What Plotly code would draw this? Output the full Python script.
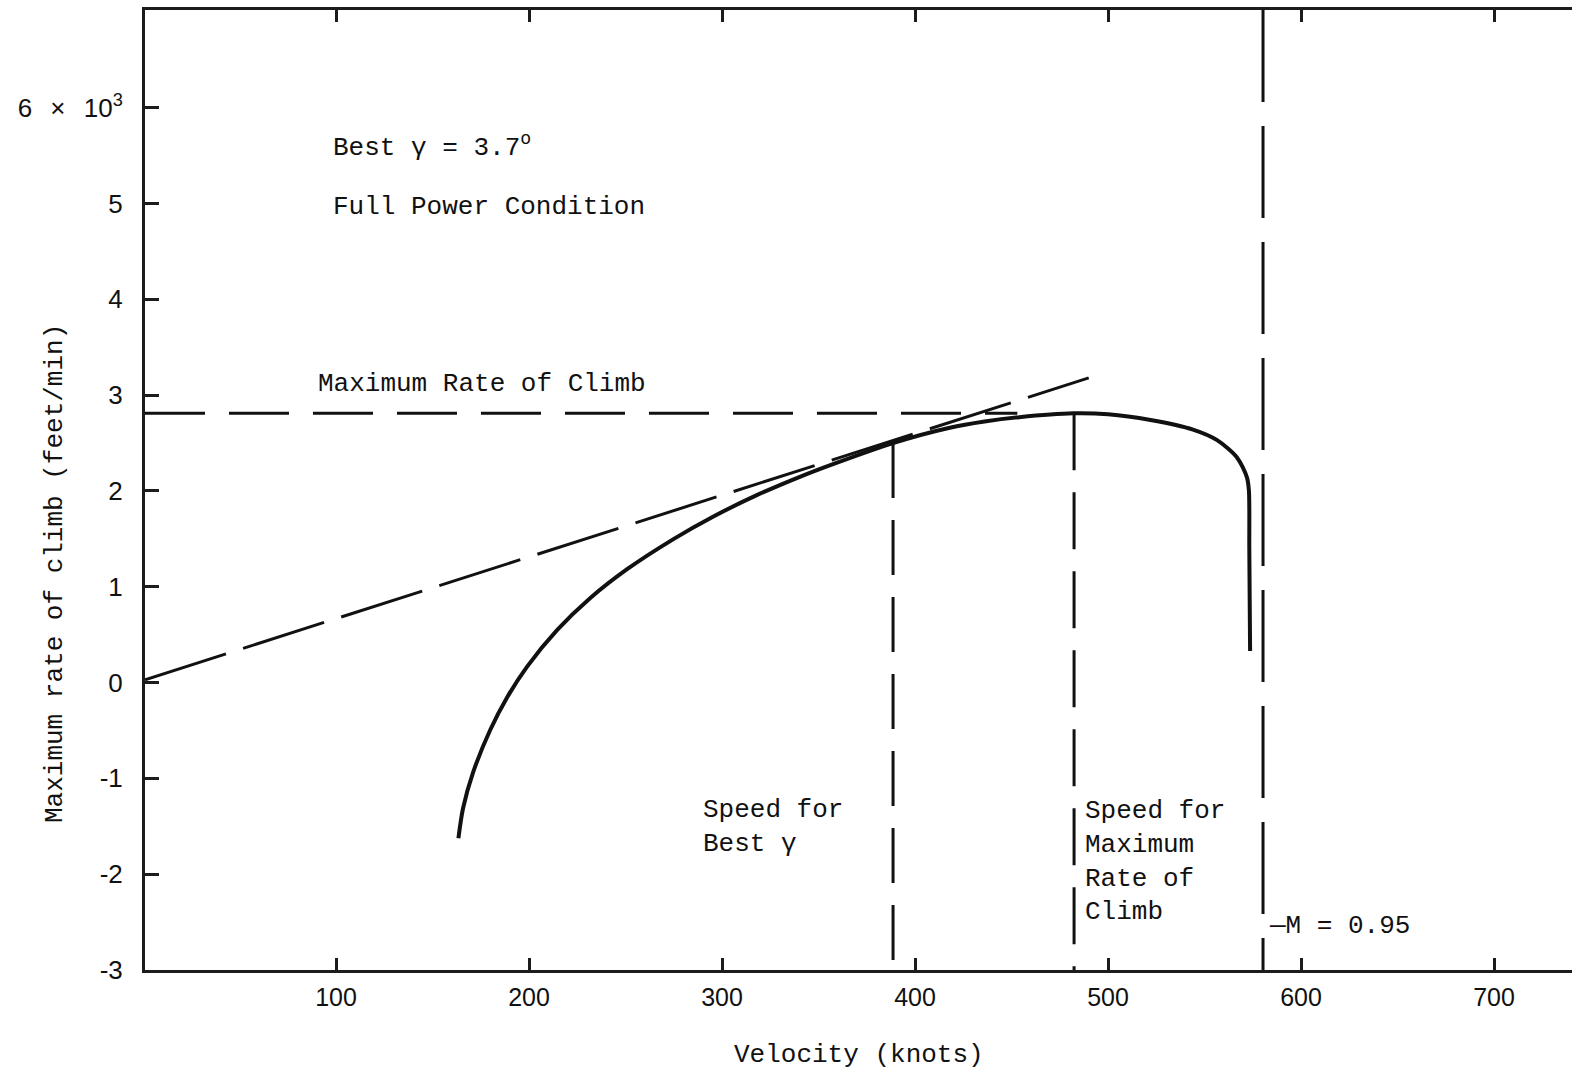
import plotly.graph_objects as go

# ---- data ----
velocity = [163.4, 165.8, 171.0, 179.8, 188.6, 199.0, 214.5, 231.6, 250.8, 274.6,
            295.3, 318.0, 340.0, 357.5, 388.6, 418.0, 436.0, 454.0, 482.0, 500.0,
            522.0, 544.0, 556.5, 566.8, 572.0, 573.0, 573.2, 573.4, 573.6]
max_roc = [-1.624, -1.312, -0.938, -0.498, -0.155, 0.167, 0.547, 0.880, 1.183, 1.495,
           1.731, 1.956, 2.145, 2.280, 2.500, 2.660, 2.725, 2.770, 2.810, 2.800,
           2.740, 2.640, 2.530, 2.350, 2.140, 2.000, 1.400, 0.850, 0.330]

tangent_v = [1, 490]
tangent_roc = [0.03, 3.18]

maxroc_line_v = [1, 453]
maxroc_line_roc = [2.81, 2.81]

vline_v = [388.6, 482.4, 580.3]
vline_top = [2.50, 2.81, 7.02]
vline_bottom = -3.0
vline_dash = ["55px,22px", "57px,22px", "92px,24px"]

x_tickvals = [100, 200, 300, 400, 500, 600, 700]
x_ticktext = ["100", "200", "300", "400", "500", "600", "700"]
y_tickvals = [-3, -2, -1, 0, 1, 2, 3, 4, 5, 6]
y_ticktext = ["-3", "-2", "-1", "0", "1", "2", "3", "4", "5",
              "6\u2002\u2009\u00d7\u2002\u200910<sup>3</sup>"]

x_range = [1.0, 740.4]
y_range = [-3.0, 7.02]

MONO = "Liberation Mono, Courier New, monospace"
SANS = "Liberation Sans, Arial, sans-serif"
INK = "#111111"
AXIS = "#1c1c1c"

fig = go.Figure()

# tangent line (best gamma)
fig.add_trace(go.Scatter(x=tangent_v, y=tangent_roc, mode="lines",
                         line=dict(color=INK, width=3, dash="85px,18px"),
                         hoverinfo="skip", showlegend=False))
# maximum rate of climb horizontal line
fig.add_trace(go.Scatter(x=maxroc_line_v, y=maxroc_line_roc, mode="lines",
                         line=dict(color=INK, width=3, dash="60px,24px"),
                         hoverinfo="skip", showlegend=False))
# vertical dashed lines
for xv, top, dsh in zip(vline_v, vline_top, vline_dash):
    fig.add_trace(go.Scatter(x=[xv, xv], y=[top, vline_bottom], mode="lines",
                             line=dict(color=INK, width=3, dash=dsh),
                             hoverinfo="skip", showlegend=False))
# main curve
fig.add_trace(go.Scatter(x=velocity, y=max_roc, mode="lines",
                         line=dict(color=INK, width=4, shape="spline", smoothing=0.8),
                         hoverinfo="skip", showlegend=False))

ann_font = dict(family=MONO, size=26, color=INK)
annotations = [
    dict(x=97.4, y=5.60, text="Best \u03b3 = 3.7<sup>o</sup>", xanchor="left", yanchor="middle"),
    dict(x=97.4, y=4.96, text="Full Power Condition", xanchor="left", yanchor="middle"),
    dict(x=89.6, y=3.12, text="Maximum Rate of Climb", xanchor="left", yanchor="middle"),
    dict(x=289.1, y=-1.51, text="Speed for<br>Best \u03b3", xanchor="left", yanchor="middle"),
    dict(x=487.0, y=-1.87, text="Speed for<br>Maximum<br>Rate of<br>Climb", xanchor="left", yanchor="middle"),
    dict(x=582.5, y=-2.54, text="\u2014M = 0.95", xanchor="left", yanchor="middle"),
]
for a in annotations:
    a.update(xref="x", yref="y", showarrow=False, font=ann_font, align="left")

annotations.append(dict(xref="paper", yref="paper", x=0, y=0.4125, xshift=-90,
                        text="Maximum rate of climb (feet/min)", textangle=-90,
                        showarrow=False, font=ann_font, xanchor="center", yanchor="middle"))
annotations.append(dict(xref="x", yref="paper", x=371, y=0, yshift=-85,
                        text="Velocity (knots)", showarrow=False, font=ann_font,
                        xanchor="center", yanchor="middle"))

fig.update_layout(
    width=1572, height=1077,
    margin=dict(l=145, r=0, t=10, b=107),
    paper_bgcolor="white", plot_bgcolor="white",
    annotations=annotations,
    xaxis=dict(range=x_range, showline=True, linewidth=3, linecolor=AXIS,
               mirror="ticks", ticks="inside", ticklen=12, tickwidth=2.5, tickcolor=AXIS,
               tickvals=x_tickvals, ticktext=x_ticktext, showgrid=False, zeroline=False,
               tickfont=dict(family=SANS, size=25, color=INK), ticklabelstandoff=3),
    yaxis=dict(range=y_range, showline=True, linewidth=3, linecolor=AXIS,
               mirror=False, ticks="inside", ticklen=14, tickwidth=2.5, tickcolor=AXIS,
               tickvals=y_tickvals, ticktext=y_ticktext, showgrid=False, zeroline=False,
               tickfont=dict(family=SANS, size=26, color=INK), ticklabelstandoff=14),
)

fig.write_html("out.html")
